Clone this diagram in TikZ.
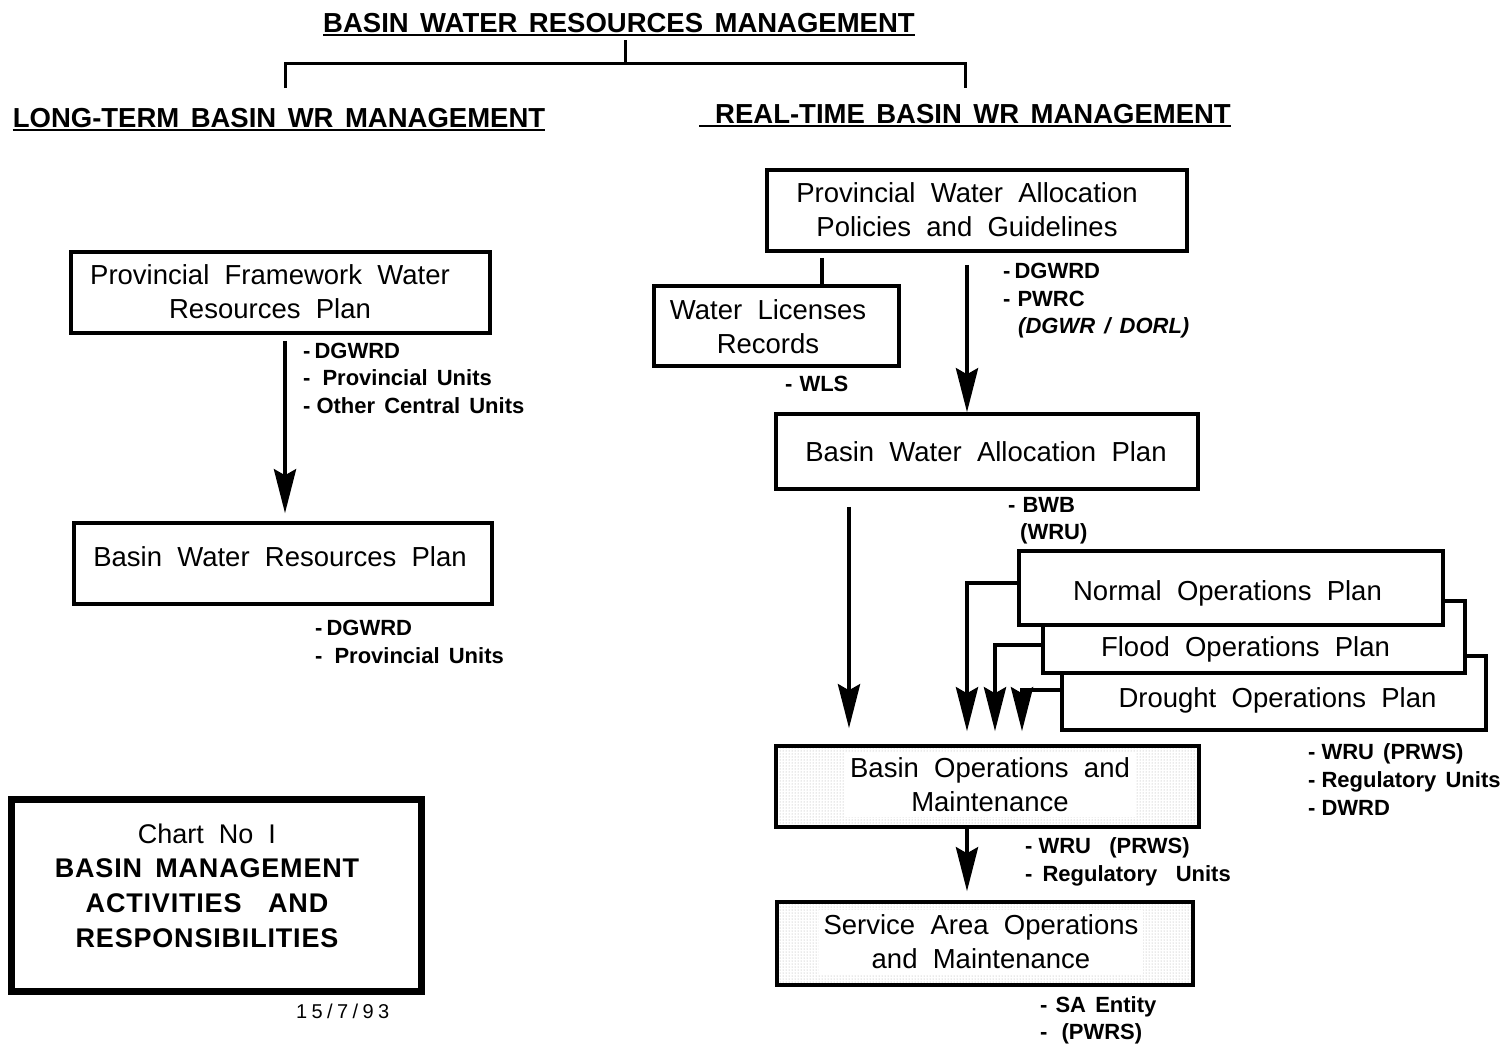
\documentclass[tikz,border=0pt]{standalone}
\usepackage{fontspec}
\setmainfont{Liberation Sans}[WordSpace=2.0]
\newfontfamily\headfont{Liberation Sans}[WordSpace=1.3]
\newfontfamily\chartfont{Liberation Sans}[WordSpace=1.6,LetterSpace=3]
\newfontfamily\lblfont{Liberation Sans}[WordSpace=1.5]
\newfontfamily\datefont{Liberation Sans}[LetterSpace=22]
\usetikzlibrary{arrows.meta,patterns,calc}

\newcommand\bxsize{\fontsize{27.5}{34}\selectfont}
\newcommand\lbsize{\lblfont\bfseries\fontsize{22}{27}\selectfont}
\newcommand\hdsize{\headfont\bfseries\fontsize{27.5}{30}\selectfont}

\begin{document}
\begin{tikzpicture}[x=1pt,y=-1pt,
  box/.style={draw, line width=3.5pt, fill=white, inner sep=0pt, align=center,
    font=\bxsize},
  stip/.style={box, pattern=dots, pattern color=gray!70},
  window/.style={fill=white, inner sep=5pt, align=center, font=\bxsize},
  boxtext/.style={inner sep=0pt, align=center, font=\bxsize},
  title/.style={inner sep=0pt, text height=20pt, text depth=0pt, font=\hdsize},
  uline/.style={line width=2.5pt},
  tree/.style={line width=3pt},
  lbl/.style={anchor=base west, inner sep=0pt, font=\lbsize},
  arr/.style={line width=4.5pt, -{Stealth[length=44pt, width=22pt, inset=6pt]}},
  link/.style={line width=4pt}]

\useasboundingbox (0,0) rectangle (1505,1045);

% ---- headings -------------------------------------------------------------
\node[title] (main) at (619,22) {BASIN WATER RESOURCES MANAGEMENT};
\node[title] (lt) at (279,117) {LONG-TERM BASIN WR MANAGEMENT};
\node[title] (rt) at (973,113) {REAL-TIME BASIN WR MANAGEMENT};
\draw[uline] ([yshift=-3pt]main.south west) -- ([yshift=-3pt]main.south east);
\draw[uline] ([yshift=-3pt]lt.south west) -- ([yshift=-3pt]lt.south east);
\draw[uline] ([xshift=-16pt,yshift=-3pt]rt.south west) -- ([yshift=-3pt]rt.south east);

% branch between the headings
\coordinate (jn) at (625,63);
\coordinate (jl) at (285,63);
\coordinate (jr) at (965,63);
\coordinate (jlend) at (285,88);
\coordinate (jrend) at (965,88);
\draw[tree] ([xshift=6pt,yshift=-8pt]main.south) -- (jn);
\draw[tree] (jlend) -- (jl) -- (jr) -- (jrend);

% ---- long-term branch ------------------------------------------------------
\node[box, minimum width=419pt, minimum height=81pt] (pfw) at (280.5,292.5) {};
\node[boxtext] (pfwtext) at (270,292) {Provincial Framework Water\\Resources Plan};
\node[box, minimum width=418pt, minimum height=81pt] (bwr) at (283,563.5) {};
\node[boxtext] (bwrtext) at (280,557) {Basin Water Resources Plan};

\draw[arr] ([xshift=4.5pt,yshift=-6pt]pfw.south) -- ([xshift=2pt,yshift=8pt]bwr.north);

\node[lbl] (l1a) at (303,358) {-\hspace{4pt}DGWRD};
\node[lbl] (l1b) at (303,385) {-\hspace{12pt}Provincial Units};
\node[lbl] (l1c) at (303,413) {-\hspace{6pt}Other Central Units};
\node[lbl] (l2a) at (315,635) {-\hspace{4pt}DGWRD};
\node[lbl] (l2b) at (315,663) {-\hspace{12pt}Provincial Units};

% chart caption
\node[draw, line width=7pt, minimum width=410pt, minimum height=192pt, inner sep=0pt]
  (chart) at (216,895) {};
\node[inner sep=0pt, align=center, font=\fontsize{27}{35}\selectfont] (charttext)
  at (207,886)
  {Chart No I\\[-1pt]
   {\chartfont\bfseries BASIN MANAGEMENT}\\
   {\chartfont\bfseries ACTIVITIES \ AND}\\
   {\chartfont\bfseries RESPONSIBILITIES}};
\node[anchor=base west, inner sep=0pt, font=\datefont\fontsize{20}{24}\selectfont]
  (date) at (296,1018) {15/7/93};

% ---- real-time branch ------------------------------------------------------
\node[box, minimum width=420pt, minimum height=81pt] (pwa) at (977,210.5) {};
\node[boxtext] (pwatext) at (967,210) {Provincial Water Allocation\\Policies and Guidelines};
\node[box, minimum width=245pt, minimum height=80pt] (wlr) at (776.5,326) {};
\node[boxtext] (wlrtext) at (768,327) {Water Licenses\\Records};
\node[box, minimum width=422pt, minimum height=75pt] (bwa) at (987,451.5) {};
\node[boxtext] (bwatext) at (986,452) {Basin Water Allocation Plan};

\draw[link] ([xshift=-155pt,yshift=-5pt]pwa.south) -- ([xshift=45.5pt]wlr.north);
\draw[arr] ([xshift=-10pt,yshift=-12pt]pwa.south) -- ([xshift=-20pt]bwa.north);

\node[lbl] (l3a) at (1003,278) {-\hspace{4pt}DGWRD};
\node[lbl] (l3b) at (1003,306) {-\hspace{7pt}PWRC};
\node[lbl, font=\lbsize\itshape] (l3c) at (1018,333) {(DGWR / DORL)};
\node[lbl] (l4) at (785,391) {-\hspace{7pt}WLS};
\node[lbl] (l5a) at (1008,512) {-\hspace{7pt}BWB};
\node[lbl] (l5b) at (1020,539) {(WRU)};

% stacked operations plans
\node[box, minimum width=424pt, minimum height=74pt] (drought) at (1274,693) {};
\node[boxtext] (droughttext) at (1277.5,700) {Drought Operations Plan};
\node[box, minimum width=422pt, minimum height=72pt] (flood) at (1254,637) {};
\node[boxtext] (floodtext) at (1245.5,649) {Flood Operations Plan};
\node[box, minimum width=424pt, minimum height=74pt] (normal) at (1231,588) {};
\node[boxtext] (normaltext) at (1227.5,593) {Normal Operations Plan};

\node[lbl] (l6a) at (1308,759) {-\hspace{6pt}WRU (PRWS)};
\node[lbl] (l6b) at (1308,787) {-\hspace{6pt}Regulatory Units};
\node[lbl] (l6c) at (1308,815) {-\hspace{6pt}DWRD};

% operations and maintenance
\node[stip, minimum width=423pt, minimum height=81pt] (bom) at (987.5,786.5) {};
\node[window] (bomtext) at (990,785) {Basin Operations and\\Maintenance};
\node[stip, minimum width=416pt, minimum height=83pt] (sao) at (985,943.5) {};
\node[window] (saotext) at (981,942) {Service Area Operations\\and Maintenance};

\draw[arr] ([xshift=-138pt,yshift=-16pt]bwa.south) -- ([xshift=-138.5pt,yshift=16pt]bom.north);
\draw[link, arr] ([yshift=5pt]normal.west) -| ([xshift=-20.5pt,yshift=13pt]bom.north);
\draw[link, arr] ([yshift=-8pt]flood.west) -| ([xshift=7.5pt,yshift=13pt]bom.north);
\draw[link, arr] ([yshift=3pt]drought.west) -| ([xshift=34.5pt,yshift=13pt]bom.north);
\draw[arr] ([xshift=-20.5pt]bom.south) -- ([xshift=-18pt,yshift=9pt]sao.north);

\node[lbl] (l7a) at (1025,853) {-\hspace{6pt}WRU \ (PRWS)};
\node[lbl] (l7b) at (1025,881) {-\hspace{10pt}Regulatory \ Units};
\node[lbl] (l8a) at (1040,1012) {-\hspace{8pt}SA Entity};
\node[lbl] (l8b) at (1040,1039) {-\hspace{14pt}(PWRS)};

\end{tikzpicture}
\end{document}
